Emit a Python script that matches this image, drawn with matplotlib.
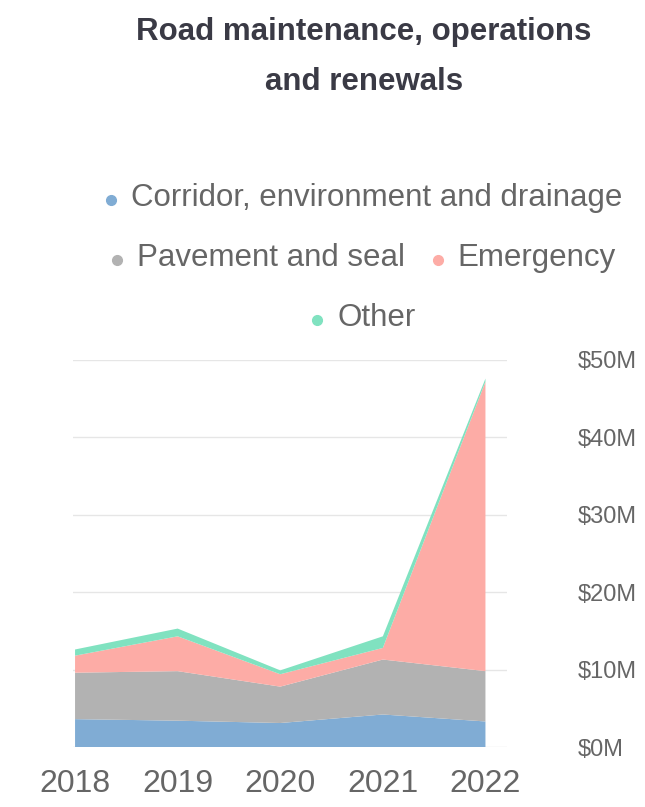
import matplotlib.pyplot as plt
from matplotlib.lines import Line2D

# data (in $M)
years = ['2018', '2019', '2020', '2021', '2022']
corridor = [3.6, 3.4, 3.1, 4.2, 3.3]
pavement = [6.0, 6.4, 4.7, 7.1, 6.5]
emergency = [2.2, 4.5, 1.6, 1.5, 37.4]
other = [0.8, 1.0, 0.5, 1.5, 0.4]
yticks = [0, 10, 20, 30, 40, 50]
ytick_labels = ['$0M', '$10M', '$20M', '$30M', '$40M', '$50M']

series_names = ['Corridor, environment and drainage', 'Pavement and seal', 'Emergency', 'Other']
colors = ['#80acd4', '#b2b2b2', '#fdaca6', '#80e2c0']
text_col = '#666666'
fam = ['Liberation Sans', 'DejaVu Sans']

W, H = 645, 807
fig = plt.figure(figsize=(W / 100, H / 100), dpi=100)
ax = fig.add_axes([73 / W, 1 - 747 / H, 434 / W, 387 / H])

x = list(range(len(years)))
ax.stackplot(x, corridor, pavement, emergency, other, colors=colors, linewidth=0, zorder=2)

ax.set_xlim(-0.02, 4.21)
ax.set_ylim(0, 50)
ax.set_yticks(yticks)
ax.set_yticklabels(ytick_labels)
ax.set_xticks(x)
ax.set_xticklabels(years)
ax.yaxis.tick_right()
ax.grid(axis='y', color='#e6e6e6', linewidth=1, zorder=0)
for s in ax.spines.values():
    s.set_visible(False)
ax.tick_params(axis='length'[0:0] or 'both', length=0)
ax.tick_params(axis='y', pad=51, labelsize=17, labelcolor=text_col)
ax.tick_params(axis='x', pad=16, labelsize=23, labelcolor=text_col)
for lab in ax.get_yticklabels() + ax.get_xticklabels():
    lab.set_family(fam)

# title
fig.text(364 / W, 1 - 32 / H, 'Road maintenance, operations', ha='center', va='center',
         fontsize=22.5, fontweight='bold', color='#3a3a45', family=fam)
fig.text(364 / W, 1 - 82 / H, 'and renewals', ha='center', va='center',
         fontsize=22.5, fontweight='bold', color='#3a3a45', family=fam)

# legend, laid out in rows like the original
rows = [[0], [1, 2], [3]]
row_y = [198, 258, 318]
fs = 22.5
for r, yy in zip(rows, row_y):
    widths = []
    for i in r:
        t = fig.text(0, 0, series_names[i], fontsize=fs, family=fam)
        fig.canvas.draw()
        widths.append(t.get_window_extent().width)
        t.remove()
    gap_m = 25
    gap_item = 28
    total = sum(w + gap_m for w in widths) + gap_item * (len(r) - 1)
    xs = 364 - total / 2
    for i, w in zip(r, widths):
        fig.add_artist(Line2D([(xs + 5) / W], [1 - (yy + 2) / H], marker='o', markersize=7,
                              color=colors[i], transform=fig.transFigure, linestyle=''))
        fig.text((xs + gap_m) / W, 1 - yy / H, series_names[i], ha='left', va='center',
                 fontsize=fs, color=text_col, family=fam)
        xs += w + gap_m + gap_item

fig.savefig('out.png', dpi=100)
